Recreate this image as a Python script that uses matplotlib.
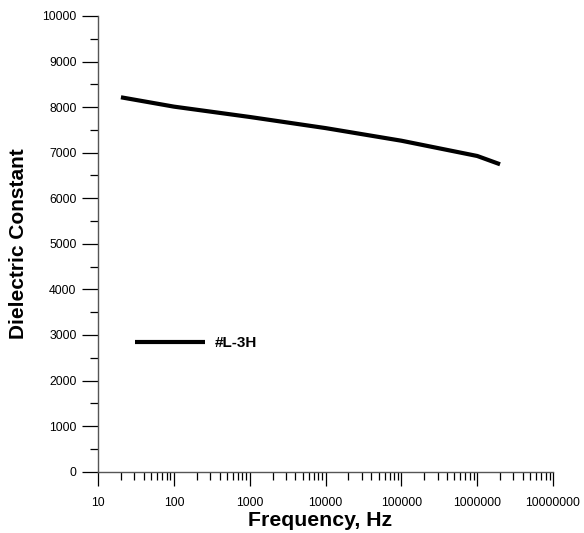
import matplotlib
matplotlib.use("Agg")
import matplotlib.pyplot as plt
from matplotlib.ticker import LogLocator, MultipleLocator, FixedLocator

plt.rcParams['font.family'] = ['Liberation Sans', 'DejaVu Sans']

# values
freq = [20, 100, 1000, 10000, 100000, 1000000, 2000000]
eps = [8216, 8011, 7784, 7540, 7263, 6928, 6746]
series_name = "#L-3H"
x_ticks = [10, 100, 1000, 10000, 100000, 1000000, 10000000]
x_ticklabels = ["10", "100", "1000", "10000", "100000", "1000000", "10000000"]
y_ticks = list(range(0, 10001, 1000))

fig = plt.figure(figsize=(5.84, 5.33), dpi=100)
ax = fig.add_axes([0.168, 0.115, 0.779, 0.855])

ax.plot(freq, eps, color='black', lw=3.0, label=series_name, solid_capstyle='butt')

ax.set_xscale('log')
ax.set_xlim(10, 1e7)
ax.set_ylim(0, 10000)

ax.xaxis.set_major_locator(FixedLocator(x_ticks))
ax.set_xticklabels(x_ticklabels)
ax.xaxis.set_minor_locator(LogLocator(base=10, subs=range(2, 10), numticks=20))
ax.xaxis.set_minor_formatter(plt.NullFormatter())
ax.set_yticks(y_ticks)
ax.yaxis.set_minor_locator(MultipleLocator(500))

for s in ['top', 'right']:
    ax.spines[s].set_visible(False)
for s in ['left', 'bottom']:
    ax.spines[s].set_color('#555555')
    ax.spines[s].set_linewidth(1.0)

ax.tick_params(axis='x', which='major', length=10, width=0.9, pad=8, labelsize=8.8, direction='out')
ax.tick_params(axis='x', which='minor', length=5.8, width=0.9, direction='out')
ax.tick_params(axis='y', which='major', length=11.5, width=0.9, pad=4, labelsize=8.8, direction='out')
ax.tick_params(axis='y', which='minor', length=5.8, width=0.9, direction='out')

ax.set_xlabel("Frequency, Hz", fontsize=15.3, fontweight='bold', labelpad=2)
ax.xaxis.label.set_x(0.488)
ax.set_ylabel("Dielectric Constant", fontsize=15, fontweight='bold', labelpad=10)

leg = ax.legend(loc='center left', bbox_to_anchor=(0.081, 0.282), frameon=False,
                borderpad=0, borderaxespad=0, handlelength=4.6, handletextpad=0.65,
                prop={'weight': 'bold', 'size': 11})

fig.savefig("out.png", dpi=100)
